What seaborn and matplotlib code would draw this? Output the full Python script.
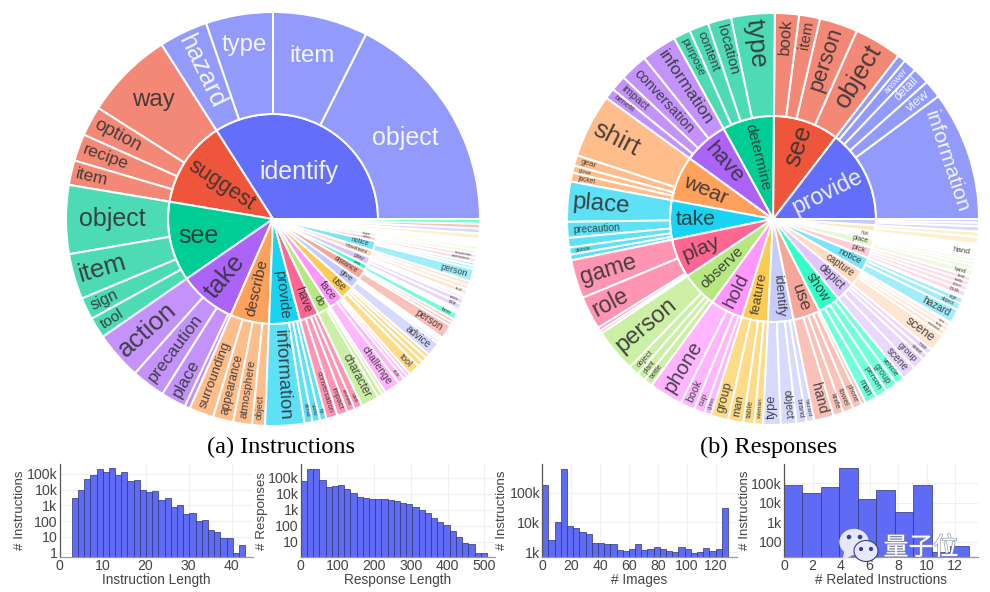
import colorsys

import numpy as np
import pandas as pd
import matplotlib
matplotlib.use("Agg")
import matplotlib.pyplot as plt
import matplotlib.patheffects as pe
import seaborn as sns
from matplotlib.font_manager import FontProperties
from matplotlib.patches import Ellipse, Polygon
from matplotlib.textpath import TextPath

W, H = 990, 592
PX = 0.72  # px -> pt at dpi 100

# --- sunburst data (shares are degrees of the full circle)
instr_roots = ["identify", "suggest", "see", "take", "describe", "provide", "have", "do",
               "face", "use", "give", "distance", "pick", "play", "movement", "notice",
               "wave", "shape", "", "", "", "", ""]
instr_leaves = [
    ["object", "item", "type", "hazard"],
    ["way", "option", "recipe", "item"],
    ["object", "item", "sign", "tool"],
    ["action", "precaution", "place", ""],
    ["surrounding", "appearance", "atmosphere", "object"],
    ["information", "detail", "view", "tip"],
    ["conversation", "impact", "review", "use"],
    ["character", "", ""],
    ["challenge", "risk", "", ""],
    ["tool", "", "", ""],
    ["advice", "", "", ""],
    ["person", "", ""],
    ["item", "", ""],
    ["role", "pass", "", ""],
    ["tool", "", ""],
    ["person", "", ""],
    ["appearance", "interpretation"],
    ["", ""],
    ["", ""],
    [""],
    [""],
    [""],
    [""],
]
instr_shares = [
    [63.3, 26.7, 18.9, 13.7],
    [25.0, 8.4, 7.6, 6.9],
    [19.3, 12.8, 6.2, 5.9],
    [13.5, 9.5, 7.1, 1.5],
    [6.9, 5.7, 5.3, 3.6],
    [11.0, 2.2, 2.2, 1.8],
    [3.2, 2.9, 2.2, 2.2],
    [5.1, 1.4, 1.0],
    [4.5, 1.9, 1.1, 1.0],
    [3.2, 1.6, 1.5, 1.2],
    [4.0, 0.8, 0.7, 0.5],
    [4.0, 1.0, 1.0],
    [1.9, 0.6, 0.5],
    [1.7, 1.5, 0.8, 0.5],
    [1.5, 1.2, 1.3],
    [3.5, 0.9, 0.9],
    [1.3, 1.1],
    [1.2, 1.0],
    [1.1, 0.9],
    [1.6],
    [1.4],
    [1.3],
    [1.3],
]

resp_roots = ["provide", "see", "determine", "have", "wear", "take", "play", "observe", "hold",
              "feature", "identify", "use", "show", "depict", "capture", "notice", "pick",
              "place", "hut", "", ""]
resp_leaves = [
    ["information", "view", "detail", "answer", ""],
    ["object", "person", "item", "book"],
    ["type", "location", "content", "purpose"],
    ["information", "conversation", "impact", "benefit"],
    ["shirt", "gear", "glove", "jacket"],
    ["place", "precaution", "", "pistole", ""],
    ["game", "role", "", ""],
    ["person", "object", "plant", "bottle"],
    ["phone", "book", "cup", "glass"],
    ["group", "man", "table", "woman"],
    ["type", "object", "brand", "hazard"],
    ["hand", "knife", "towel", "phone", ""],
    ["man", "person", "group", "vehicle"],
    ["scene", "group", "street", "man"],
    ["scene", "moment", "shop", "view", ""],
    ["hazard", "object", "sign", ""],
    ["book", "place", "bottle", "ideal"],
    ["hand", "", "", ""],
    ["hand", ""],
    ["", ""],
    ["", "", ""],
]
resp_shares = [
    [36.6, 5.1, 4.7, 3.8, 2.3],
    [13.5, 10.8, 5.9, 6.8],
    [12.3, 6.6, 5.5, 4.8],
    [10.0, 7.9, 4.4, 3.0],
    [18.0, 3.0, 2.0, 2.5],
    [11.3, 4.5, 2.7, 2.0, 1.6],
    [10.9, 9.4, 1.0, 0.8],
    [12.3, 2.9, 2.5, 2.5],
    [9.5, 4.1, 3.0, 2.0],
    [4.9, 4.3, 3.1, 2.4],
    [5.0, 4.4, 2.8, 2.2],
    [5.6, 2.8, 3.0, 2.6, 1.2],
    [3.4, 3.3, 3.4, 2.6],
    [4.0, 3.5, 1.8, 1.7],
    [5.0, 1.5, 1.3, 1.2, 0.3],
    [4.0, 2.0, 1.6, 0.4],
    [1.7, 1.5, 1.4, 1.4],
    [2.0, 1.2, 1.0, 1.0],
    [3.0, 1.0],
    [2.0, 1.5],
    [1.5, 1.0, 1.0],
]

# --- histogram data
instr_len_counts = [2800, 9500, 48000, 86000, 209000, 122000, 229000, 86000, 122000, 35700,
                    37500, 9500, 6700, 7800, 2200, 2800, 820, 1050, 280, 310,
                    100, 116, 27, 19, 9, 8, 1, 3]
resp_len_counts = [62000, 347000, 331000, 71000, 26000, 31600, 33000, 19500, 10500, 6500,
                   5370, 4640, 4640, 4640, 4200, 3650, 2750, 2150, 1470, 950,
                   590, 300, 170, 105, 49, 21, 8.3, 7, 1.9, 1.9]
image_counts = [176000, 2600, 10400, 634000, 7830, 6370, 4680, 4010, 2110, 2110,
                1850, 1900, 1170, 1110, 1260, 1900, 1200, 1330, 1550, 1260,
                1140, 1030, 1470, 1260, 950, 1050, 1400, 1140, 1290, 31400]
related_counts = [78000, 31600, 61700, 608000, 15000, 45000, 3200, 81000, 30, 62]

sns.set_theme(style="whitegrid")
plt.rcParams["font.family"] = ["Liberation Sans", "Noto Sans CJK SC", "DejaVu Sans"]

base_colors = ["#636EFA", "#EF553B", "#00CC96", "#AB63FA", "#FFA15A",
               "#19D3F3", "#FF6692", "#B6E880", "#FF97FF", "#FECB52"]
base_rgb = sns.color_palette(base_colors)


def shift_light(rgb, amount):
    h, l, s = colorsys.rgb_to_hls(*rgb)
    return colorsys.hls_to_rgb(h, min(max(l + amount, 0), 1), s)


# base colours first, everything after that stays in the lighter pass
light_rgb = [shift_light(c, 0.2) for c in base_rgb]


def root_color(i):
    return base_rgb[i] if i < 10 else light_rgb[i % 10]


fp = FontProperties(family="Liberation Sans")


def em_width(s):
    return TextPath((0, 0), s, size=100, prop=fp).get_extents().width / 100


def put_label(ax, text, r0, r1, t0, t1, style, color):
    if not text:
        return
    mid = np.radians((t0 + t1) / 2)
    dt = np.radians(t1 - t0)
    e = em_width(text)
    L = r1 - r0
    cap = style[2] if style and len(style) > 2 else 26
    if style and style[0] == "h":
        fs, rot, r = cap, 0, style[1]
    elif style and style[0] == "t":
        fs, r = cap, style[1]
        rot = np.degrees(mid) - 90
    else:
        k = 0.68 if r0 == 0 else 0.65
        fs = min(cap, k * r1 * dt / (0.8 + k * e * dt), (L - 6) / e)
        tw = e * fs
        r = r1 - tw / 2 - 6
        deg = (t0 + t1) / 2
        rot = deg - 180 if 90 < deg < 270 else deg
    ax.text(r * np.cos(mid), r * np.sin(mid), text, rotation=rot, rotation_mode="anchor",
            ha="center", va="center", fontsize=fs * PX, color=color, alpha=0.9)


def sunburst(center, r_in, r_out, roots, leaves, shares, styles):
    box = r_out + 8
    ax = fig.add_axes([(center[0] - box) / W, 1 - (center[1] + box) / H, 2 * box / W, 2 * box / H])
    root_vals = [sum(s) for s in shares]
    leaf_vals = [v for s in shares for v in s]
    leaf_names = [(roots[i], n) for i, ln in enumerate(leaves) for n in ln]
    leaf_idx = [i for i, s in enumerate(shares) for _ in s]
    root_cols = [root_color(i) for i in range(len(roots))]
    leaf_cols = [tuple(0.7 * np.array(root_cols[i]) + 0.3) for i in leaf_idx]
    wedge_kw = dict(edgecolor="white", linewidth=1.45)
    inner, _ = ax.pie(root_vals, radius=r_in, colors=root_cols, startangle=0, wedgeprops=wedge_kw)
    outer, _ = ax.pie(leaf_vals, radius=r_out, colors=leaf_cols, startangle=0,
                      wedgeprops=dict(width=r_out - r_in, **wedge_kw))
    for i, w in enumerate(inner):
        put_label(ax, roots[i], 0, r_in, w.theta1, w.theta2, styles.get(roots[i]),
                  "white" if i == 0 else "#333333")
    for k, w in enumerate(outer):
        root, leaf = leaf_names[k]
        put_label(ax, leaf, r_in, r_out, w.theta1, w.theta2, styles.get(root + "/" + leaf),
                  "white" if leaf_idx[k] == 0 else "#333333")
    ax.set_xlim(-box, box)
    ax.set_ylim(-box, box)
    ax.set_aspect("equal")
    ax.set_axis_off()


def hist_panel(left, right, counts, start, width, xlim, ylim, xticks, yticks, yticklabels,
               xlabel, ylabel, ylabel_x):
    top, bottom = 464, 557
    ax = fig.add_axes([left / W, 1 - bottom / H, (right - left) / W, (bottom - top) / H])
    edges = start + width * np.arange(len(counts) + 1)
    df = pd.DataFrame({"center": (edges[:-1] + edges[1:]) / 2, "count": counts})
    sns.histplot(data=df, x="center", weights="count", bins=list(edges), ax=ax,
                 color="#5F6BF5", alpha=1, edgecolor="#2E3570", linewidth=0.5)
    ax.set_yscale("log")
    ax.set_xlim(*xlim)
    ax.set_ylim(*ylim)
    ax.set_xticks(xticks)
    ax.set_yticks(yticks)
    ax.set_yticklabels(yticklabels)
    ax.minorticks_off()
    ax.grid(True, color="#EFEFEF", linewidth=0.8)
    ax.set_axisbelow(True)
    ax.tick_params(axis="both", length=0, labelsize=10.2, labelcolor="#444444", pad=1.5)
    for side in ("top", "right"):
        ax.spines[side].set_visible(False)
    ax.spines["left"].set_color("#555555")
    ax.spines["bottom"].set_color("#999988")
    ax.spines["left"].set_linewidth(0.9)
    ax.spines["bottom"].set_linewidth(0.9)
    ax.set_xlabel(xlabel, fontsize=9.8, color="#444444", va="center")
    ax.set_ylabel(ylabel, fontsize=9.6, color="#444444", va="center")
    ax.xaxis.set_label_coords(0.5, -(580 - bottom) / (bottom - top))
    ax.yaxis.set_label_coords((ylabel_x - left) / (right - left), 0.5)


fig = plt.figure(figsize=(W / 100, H / 100), dpi=100, facecolor="white")

instr_styles = {
    "identify": ("h", 54, 25),
    "see": ("h", 76, 25),
    "identify/object": ("h", 155, 25),
    "identify/item": ("h", 168, 24),
    "identify/type": ("h", 176, 24),
    "suggest/way": ("h", 169, 24),
    "see/object": ("h", 161, 25),
}
resp_styles = {
    "provide/information": ("t", 183, 21.5),
}

sunburst((273, 219), 105, 207, instr_roots, instr_leaves, instr_shares, instr_styles)
sunburst((773, 219), 103, 206, resp_roots, resp_leaves, resp_shares, resp_styles)

hist_panel(59.5, 253, instr_len_counts, 2.85, 1.44, (0, 45), (0.53, 414000),
           [0, 10, 20, 30, 40], [1, 10, 100, 1e3, 1e4, 1e5], ["1", "10", "100", "1k", "10k", "100k"],
           "Instruction Length", "# Instructions", 20)
hist_panel(300.7, 495, resp_len_counts, 0, 16.9, (0, 529), (1.1, 718000),
           [0, 100, 200, 300, 400, 500], [10, 100, 1e3, 1e4, 1e5], ["10", "100", "1k", "10k", "100k"],
           "Response Length", "# Responses", 262)
hist_panel(542.3, 736.7, image_counts, 0, 4.28, (0, 134.5), (695, 910000),
           [0, 20, 40, 60, 80, 100, 120], [1e3, 1e4, 1e5], ["1k", "10k", "100k"],
           "# Images", "# Instructions", 502)
hist_panel(784, 978, related_counts, 0, 1.296, (0, 13.6), (16.4, 960000),
           [0, 2, 4, 6, 8, 10, 12], [100, 1e3, 1e4, 1e5], ["100", "1k", "10k", "100k"],
           "# Related Instructions", "# Instructions", 745)

# captions and the watermark sit on a full-figure pixel layer
top = fig.add_axes([0, 0, 1, 1], facecolor="none")
top.set_xlim(0, W)
top.set_ylim(H, 0)
top.set_axis_off()
top.text(281, 447, "(a) Instructions", family="Liberation Serif", fontsize=17.5, ha="center", va="center", color="black")
top.text(769, 447, "(b) Responses", family="Liberation Serif", fontsize=17.5, ha="center", va="center", color="black")

bubble = "#E6E8FB"
top.add_patch(Polygon([[845, 551], [843, 560], [853, 554]], color=bubble, zorder=5))
top.add_patch(Ellipse((854, 542), 28, 25, color=bubble, zorder=5))
top.add_patch(Ellipse((866, 551), 24, 21, facecolor=bubble, edgecolor="#3A3F7A", linewidth=0.8, zorder=6))
for x, y, s, z in [(849, 537, 3.2, 6), (860, 537, 3.2, 6), (861, 549, 2.8, 7), (871, 549, 2.8, 7)]:
    top.add_patch(Ellipse((x, y), s, s, color="#3A3F9A", zorder=z))
wm = top.text(921, 548, "量子位", family=["Noto Sans CJK SC", "DejaVu Sans"], fontsize=18, color="white",
              ha="center", va="center", zorder=7)
wm.set_path_effects([pe.withStroke(linewidth=0.9, foreground="#8A8FA8")])

fig.savefig("out.png", dpi=100)
plt.close(fig)
